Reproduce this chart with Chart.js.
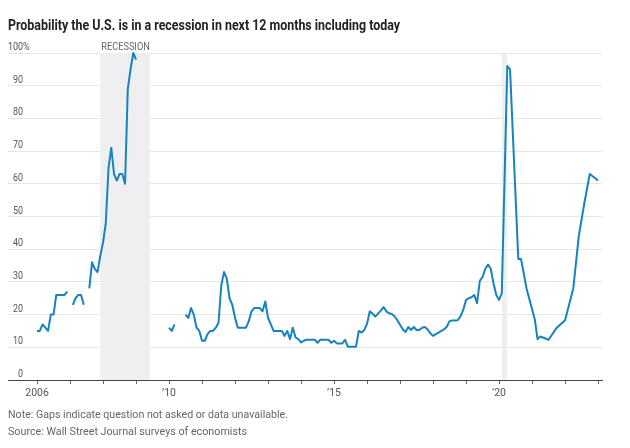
<!DOCTYPE html>
<html>
<head>
<meta charset="utf-8">
<script src="https://cdn.jsdelivr.net/npm/chart.js@4.4.1/dist/chart.umd.min.js"></script>
<style>
html,body{margin:0;padding:0;background:#fff;width:630px;height:448px;overflow:hidden;}
#wrap{position:relative;width:630px;height:448px;}
canvas{position:absolute;left:0;top:0;}
.txt{position:absolute;left:8px;white-space:nowrap;transform-origin:0 0;line-height:1;display:inline-block;}
#title{font-weight:bold;color:#222;}
#note,#source{color:#666;}
</style>
</head>
<body>
<div id="wrap">
<canvas id="c" width="630" height="448"></canvas>
<span id="title" class="txt">Probability the U.S. is in a recession in next 12 months including today</span>
<span id="note" class="txt">Note: Gaps indicate question not asked or data unavailable.</span>
<span id="source" class="txt">Source: Wall Street Journal surveys of economists</span>
</div>
<script>
// ---------------- DATA ----------------
const surveyDates = [
'2006-01','2006-02','2006-03','2006-04','2006-05','2006-06','2006-07','2006-08','2006-09','2006-10','2006-11','2006-12',
'2007-01',
'2007-02','2007-03','2007-04','2007-05','2007-06',
'2007-07',
'2007-08','2007-09','2007-10','2007-11','2007-12','2008-01','2008-02','2008-03','2008-04','2008-05','2008-06','2008-07',
'2008-08','2008-09','2008-10','2008-11','2008-12','2009-01',
'2009-06',
'2010-01','2010-02','2010-03',
'2010-05',
'2010-07','2010-08','2010-09','2010-10','2010-11','2010-12',
'2011-01','2011-02','2011-03','2011-04','2011-05','2011-06','2011-07','2011-08','2011-09','2011-10','2011-11','2011-12',
'2012-01','2012-02','2012-03','2012-04','2012-05','2012-06','2012-07','2012-08','2012-09','2012-10','2012-11','2012-12',
'2013-01','2013-02','2013-03','2013-04','2013-05','2013-06','2013-07','2013-08','2013-09','2013-10','2013-11','2013-12',
'2014-01','2014-02','2014-03','2014-04','2014-05','2014-06','2014-07','2014-08','2014-09','2014-10','2014-11','2014-12',
'2015-01','2015-02','2015-03','2015-04','2015-05','2015-06','2015-07','2015-08','2015-09','2015-10','2015-11','2015-12',
'2016-01','2016-02','2016-03','2016-04','2016-05','2016-06','2016-07','2016-08','2016-09','2016-10','2016-11','2016-12',
'2017-01','2017-02','2017-03','2017-04','2017-05','2017-06','2017-07','2017-08','2017-09','2017-10','2017-11','2017-12',
'2018-01','2018-02','2018-03','2018-04','2018-05','2018-06','2018-07','2018-08','2018-09','2018-10','2018-11','2018-12',
'2019-01','2019-02','2019-03','2019-04','2019-05','2019-06','2019-07','2019-08','2019-09','2019-10','2019-11','2019-12',
'2020-01','2020-02','2020-04','2020-05','2020-08','2020-09','2020-11',
'2021-02','2021-03','2021-04','2021-07','2021-10',
'2022-01','2022-04','2022-06','2022-08','2022-10','2023-01'
];
const recessionProbability = [
15,15,17,16,15,20,20,26,26,26,26,27,
null,
23,25,26,26,23,
null,
28,36,34,33,38,42,48,65,71,63,61,63,
63,60,89,95,100,98,
null,
16,15,17,
null,
20,19,22,20,16,15,
12,12,14,15,15,16,17.5,29,33,31,25,23,
19,16,16,16,16,18,21,22,22,22,21,24,
19,17,15,15,15,15,13.5,15,12.5,16,13,12.5,
11.5,12,12.3,12.3,12.3,12.3,11.4,12.3,12.3,12.3,12.3,11.4,
12,11.2,11.2,11.2,12.3,10.2,10.2,10.2,10.2,15,14.5,15.3,
17.2,21,20.3,19.4,20.3,21.2,22.3,21,20.4,20.2,19.5,18.3,
16.9,15.5,14.7,16.2,15.3,16.2,15.3,15.3,16,16.2,15.5,14.3,
13.5,14,14.5,15,15.5,16.3,18,18.2,18.2,18.3,19.5,21.5,
24.5,25,25.3,26,23.5,30.3,31.5,34,35.3,34,29.5,26,
24.5,26.5,96,95,37,37,28,
18.5,12.5,13.3,12.3,16,
18.3,28,44,54,63,61
];
const recessionStarts = ['2007-12','2020-02'];
const recessionEnds   = ['2009-06','2020-04'];
const recessionLabel = 'RECESSION';
const xTickYears = [2006,2007,2008,2009,2010,2011,2012,2013,2014,2015,2016,2017,2018,2019,2020,2021,2022,2023];
const xTickLabels = {2006:'2006',2010:'\u201910',2015:'\u201915',2020:'\u201920'};
const yTickValues = [0,10,20,30,40,50,60,70,80,90,100];

// ---------------- FONTS ----------------
function hasFont(f){
  const c=document.createElement('canvas').getContext('2d');
  const s='abcdefghijklmnopqrstuvwxyzABCDEFGHIJKLM0123456789';
  c.font='40px monospace'; const a=c.measureText(s).width;
  c.font='40px "'+f+'", monospace'; const b=c.measureText(s).width;
  return Math.abs(a-b)>0.5;
}
const NARROW = hasFont('Liberation Sans Narrow');
const FAM = NARROW ? '"Liberation Sans Narrow", Roboto, sans-serif' : 'Roboto, "Liberation Sans", sans-serif';
const mctx = document.createElement('canvas').getContext('2d');
function fitK(text, font, target){ mctx.font = font; return target / mctx.measureText(text).width; }

function placeText(id, sizePx, bold, baseline, targetW){
  const el=document.getElementById(id);
  el.style.fontFamily = FAM;
  el.style.fontSize = sizePx+'px';
  const font = (bold?'bold ':'') + sizePx + 'px ' + FAM;
  const k = fitK(el.textContent, font, targetW);
  el.style.transform = 'scaleX('+k.toFixed(4)+')';
  el.style.top = (baseline - 0.845*sizePx) + 'px';
}
placeText('title', 14.6, true, 30, 392);
placeText('note', 11.5, false, 419, 280);
placeText('source', 11.5, false, 436, 239);

// ---------------- HELPERS ----------------
function toYear(s){ const p=s.split('-'); return +p[0] + (+p[1]-1)/12; }
const points = surveyDates.map((d,i)=>({x: toYear(d), y: recessionProbability[i]}));

function drawScaled(ctx, text, x, y, align, k){
  ctx.save(); ctx.translate(x,y); ctx.scale(k,1); ctx.textAlign=align; ctx.fillText(text,0,0); ctx.restore();
}

const recessionPlugin = {
  id:'recessions',
  beforeDatasetsDraw(chart){
    const {ctx, chartArea, scales:{x}} = chart;
    ctx.save();
    ctx.fillStyle = '#efeff2';
    recessionStarts.forEach((s,i)=>{
      const x0 = x.getPixelForValue(toYear(s));
      const x1 = x.getPixelForValue(toYear(recessionEnds[i]));
      ctx.fillRect(x0, chartArea.top, x1-x0, chartArea.bottom-chartArea.top);
    });
    // label above first recession
    const font = '11px ' + FAM;
    ctx.font = font; ctx.fillStyle = '#666'; ctx.textBaseline='alphabetic';
    const x0 = x.getPixelForValue(toYear(recessionStarts[0]));
    const x1 = x.getPixelForValue(toYear(recessionEnds[0]));
    drawScaled(ctx, recessionLabel, x0+1, chartArea.top-3, 'left', fitK(recessionLabel, font, x1-x0-1));
    ctx.restore();
  }
};

const yLabelPlugin = {
  id:'yLabels',
  afterDraw(chart){
    const {ctx, scales:{y}} = chart;
    const font = '11.5px ' + FAM;
    ctx.save();
    ctx.font = font; ctx.fillStyle='#555'; ctx.textBaseline='alphabetic';
    const k = fitK('00', font, 10);
    yTickValues.forEach(v=>{
      const py = y.getPixelForValue(v) - 3;
      drawScaled(ctx, String(v), 23, py, 'right', k);
      if (v===100) drawScaled(ctx, '%', 23, py, 'left', k);
    });
    ctx.restore();
  }
};

new Chart(document.getElementById('c'), {
  type:'line',
  data:{ datasets:[{
    data: points,
    borderColor:'#1684bc',
    borderWidth:2,
    pointRadius:0,
    tension:0,
    spanGaps:false,
    fill:false,
    clip:false,
    borderJoinStyle:'round'
  }]},
  options:{
    responsive:false,
    animation:false,
    devicePixelRatio:1,
    parsing:true,
    layout:{ padding:{ left:8, right:28, top:53, bottom:38 } },
    plugins:{ legend:{display:false}, tooltip:{enabled:false}, title:{display:false} },
    scales:{
      x:{
        type:'linear',
        min:2005.12, max:2023.12,
        afterBuildTicks(scale){ scale.ticks = xTickYears.map(v=>({value:v})); },
        afterFit(scale){ scale.height = 30; },
        ticks:{
          autoSkip:false, maxRotation:0, minRotation:0, padding:3,
          color:'#555',
          font:{ family: FAM, size: NARROW ? 12 : 10.5 },
          callback:(v)=> xTickLabels[v] || ''
        },
        grid:{ drawOnChartArea:false, drawTicks:true, tickLength:4, color:'#666', lineWidth:1 },
        border:{ display:true, color:'#444', width:1 }
      },
      y:{
        min:0, max:100,
        afterBuildTicks(scale){ scale.ticks = yTickValues.map(v=>({value:v})); },
        afterFit(scale){ scale.width = 0; },
        ticks:{ display:false },
        grid:{ color:(c)=> c.tick && c.tick.value===0 ? 'rgba(0,0,0,0)' : '#e6e6e6', drawTicks:false, lineWidth:1 },
        border:{ display:false }
      }
    }
  },
  plugins:[recessionPlugin, yLabelPlugin]
});
</script>
</body>
</html>
